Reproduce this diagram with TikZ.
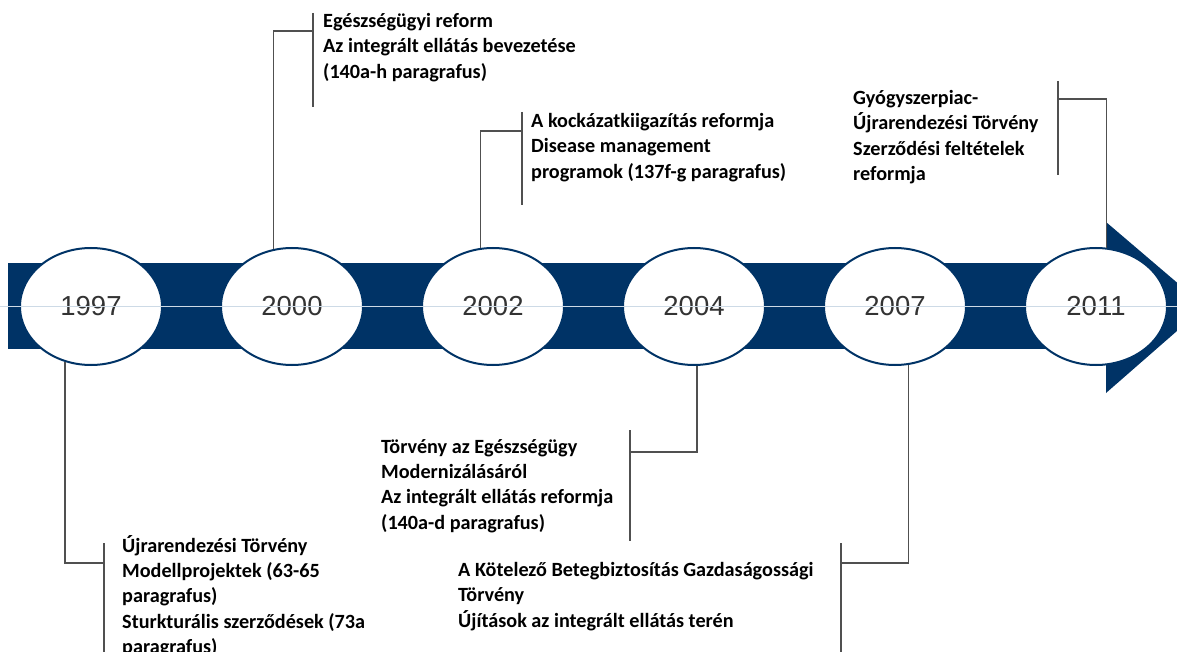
\documentclass[tikz,border=0pt]{standalone}
\usepackage{fontspec}
\usepackage{tikz}
\usetikzlibrary{positioning,shapes.geometric}
\newfontfamily\yearfont{Liberation Sans}
\newfontfamily\notefont{Carlito}
\definecolor{navy}{RGB}{0,51,102}
\definecolor{linkgray}{RGB}{80,80,80}
\definecolor{axisblue}{RGB}{205,218,230}

\begin{document}
\begin{tikzpicture}[x=1pt,y=-1pt,node distance=57pt,
  year/.style={draw=navy,line width=2pt,fill=white,ellipse,minimum width=142pt,minimum height=117pt,inner sep=0pt,font=\yearfont\fontsize{27.5}{30}\selectfont,text=black!80},
  note/.style={anchor=north west,inner sep=0pt,align=left,font=\notefont\bfseries\fontsize{20.2}{25.4}\selectfont},
  link/.style={draw=linkgray,line width=1.5pt}]
\useasboundingbox (0,0) rectangle (1177,652);
% band and arrow head
\fill[navy] (8,263) rectangle (1106,349);
\fill[navy] (1106,222) -- (1205,306.5) -- (1106,393) -- cycle;
% years
\node[year] (y1997) at (91,306.5) {1997};
\node[year,right=of y1997] (y2000) {2000};
\node[year,right=of y2000] (y2002) {2002};
\node[year,right=of y2002] (y2004) {2004};
\node[year,right=of y2004] (y2007) {2007};
\node[year,right=of y2007] (y2011) {2011};
\draw[axisblue,line width=1pt] (0,306.5) -- (1177,306.5);
% notes above
\node[note] (t2000) at (323,13) {Egészségügyi reform\\Az integrált ellátás bevezetése\\(140a-h paragrafus)};
\node[note] (t2002) at (531,113) {A kockázatkiigazítás reformja\\Disease management\\programok (137f-g paragrafus)};
\node[note] (t2011) at (853,90) {Gyógyszerpiac-\\Újrarendezési Törvény\\Szerződési feltételek\\reformja};
% notes below
\node[note] (t1997) at (122,535) {Újrarendezési Törvény\\Modellprojektek (63-65\\paragrafus)\\Sturkturális szerződések (73a\\paragrafus)};
\node[note] (t2004) at (381,439) {Törvény az Egészségügy\\Modernizálásáról\\Az integrált ellátás reformja\\(140a-d paragrafus)};
\node[note] (t2007) at (458,562) {A Kötelező Betegbiztosítás Gazdaságossági\\Törvény\\Újítások az integrált ellátás terén};
% brackets
\coordinate (k2000) at (313,31); \coordinate (k2000a) at (313,13); \coordinate (k2000b) at (313,107);
\coordinate (k2002) at (522,131); \coordinate (k2002a) at (522,112); \coordinate (k2002b) at (522,205);
\coordinate (k2011) at (1058,99); \coordinate (k2011a) at (1058,81); \coordinate (k2011b) at (1058,175);
\coordinate (k1997) at (104,563); \coordinate (k1997a) at (104,543); \coordinate (k1997b) at (104,660);
\coordinate (k2004) at (630,452); \coordinate (k2004a) at (630,430); \coordinate (k2004b) at (630,541);
\coordinate (k2007) at (841,563); \coordinate (k2007a) at (841,543); \coordinate (k2007b) at (841,660);
\draw[link] (y2000.108) |- (k2000); \draw[link] (k2000a) -- (k2000b);
\draw[link] (y2002.102) |- (k2002); \draw[link] (k2002a) -- (k2002b);
\draw[link] (y2011.80) |- (k2011); \draw[link] (k2011a) -- (k2011b);
\draw[link] (y1997.245) |- (k1997); \draw[link] (k1997a) -- (k1997b);
\draw[link] (y2004.273) |- (k2004); \draw[link] (k2004a) -- (k2004b);
\draw[link] (y2007.283) |- (k2007); \draw[link] (k2007a) -- (k2007b);
\end{tikzpicture}
\end{document}
